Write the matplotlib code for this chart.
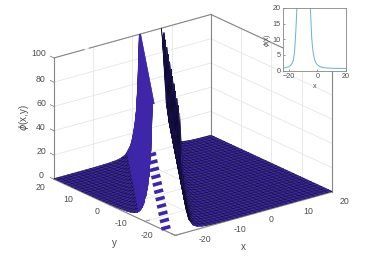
import numpy as np
import matplotlib
matplotlib.use("Agg")
import matplotlib.pyplot as plt

plt.rcParams['font.family'] = ['Liberation Sans', 'DejaVu Sans']

W, H = 385, 259

# grid of the surface
n_grid = 36
x = np.linspace(-20, 20, n_grid)
y = np.linspace(-20, 20, n_grid)

# height, by distance from the ridge (in thirds of a grid step)
# last value holds for everything further away
ridge_height = [np.nan, np.nan, np.nan, np.nan, np.nan, np.nan, np.nan,
                100, 100, 60, 38, 27, 20, 14, 10, 7.5, 5.6, 4.2, 3.3, 2.7,
                2.2, 1.9, 1.6, 1.4, 1.2, 1.1, 1.0, 0.9, 0.85, 0.8, 0.75,
                0.7, 0.68, 0.65, 0.62, 0.6, 0.58, 0.56, 0.54, 0.52, 0.5]

# flat bits left in the middle of the ridge: row, column
dash_rows = [4, 7, 10, 13, 16, 19, 22, 25, 28, 31, 34]
dash_cols = [1, 3, 5, 7, 9, 11, 13, 15, 17, 19, 21]

# inset slice
slice_x = [-24, -22, -20, -19, -18, -17, -16.5, -16, -15.5, -15, -14.6, -14.2,
           -5, -4.6, -4, -3.5, -3, -2, -1, 0, 2, 4, 7, 10, 14, 20]
slice_y = [0.8, 0.95, 1.2, 1.5, 2, 3, 4, 5.5, 9, 13, 17, 21,
           21, 17, 11, 8, 6, 3.5, 2.4, 1.8, 1.2, 0.95, 0.8, 0.72, 0.68, 0.65]

xticks = [-20, -10, 0, 10, 20]
yticks = [-20, -10, 0, 10, 20]
zticks = [0, 20, 40, 60, 80, 100]

blue = '#3e26a8'
frame = '#858585'
grid_col = '#e6e6e6'
txt = '#4d4d4d'

Z = np.zeros((n_grid, n_grid))
K = np.zeros((n_grid, n_grid), dtype=int)
for i in range(n_grid):
    for j in range(n_grid):
        k = 3 * j - 2 * i + 5
        K[i, j] = k
        Z[i, j] = ridge_height[min(abs(k), len(ridge_height) - 1)]

X, Y = np.meshgrid(x, y)

fig = plt.figure(figsize=(W / 100, H / 100), dpi=100)
# 3d axes stay square, so a big square hanging over the figure edges
side = 300
cx, cy = 189, 129
ax = fig.add_axes([(cx - side / 2) / W, 1 - (cy + side / 2) / H, side / W, side / H],
                  projection='3d', computed_zorder=False)
ax.set_proj_type('ortho')
ax.view_init(elev=21, azim=232.3)
ax.set_xlim(-20, 20)
ax.set_ylim(-20, 20)
ax.set_zlim(0, 100)
ax.set_box_aspect((1, 1, 0.655), zoom=1.0)
ax.set_axis_off()

# walls and floor grid
for t in xticks:
    ax.plot([t, t], [20, 20], [0, 100], color=grid_col, lw=0.6)
    ax.plot([t, t], [-20, 20], [0, 0], color=grid_col, lw=0.6)
for t in yticks:
    ax.plot([20, 20], [t, t], [0, 100], color=grid_col, lw=0.6)
    ax.plot([-20, 20], [t, t], [0, 0], color=grid_col, lw=0.6)
for t in zticks[1:]:
    ax.plot([-20, 20], [20, 20], [t, t], color=grid_col, lw=0.6)
    ax.plot([20, 20], [-20, 20], [t, t], color=grid_col, lw=0.6)

# box, the back top edge has a small break in the original
ax.plot([-20, -12.3], [20, 20], [100, 100], color=frame, lw=0.8)
ax.plot([-11, 20], [20, 20], [100, 100], color=frame, lw=0.8)
ax.plot([20, 20], [20, -20], [100, 100], color=frame, lw=0.8)
ax.plot([-20, -20], [20, 20], [0, 100], color=frame, lw=0.8)
ax.plot([20, 20], [20, 20], [0, 100], color=frame, lw=0.8)
ax.plot([20, 20], [-20, -20], [0, 100], color=frame, lw=0.8)
ax.plot([-20, 20], [-20, -20], [0, 0], color=frame, lw=0.8)
ax.plot([-20, -20], [-20, 20], [0, 0], color=frame, lw=0.8)
for t in zticks:
    ax.plot([-20, -20], [20, 21.2], [t, t], color=frame, lw=0.6)
for t in yticks:
    ax.plot([-20, -18.8], [t, t], [0, 0], color=frame, lw=0.6)
for t in xticks:
    ax.plot([t, t], [-20, -18.8], [0, 0], color=frame, lw=0.6)

Z_main = np.where((K < 0) & (np.abs(K) < 13), np.nan, Z)
ax.plot_surface(X, Y, Z_main, rstride=1, cstride=1, color=blue, edgecolor='#0d0a30',
                linewidth=0.35, shade=False, zorder=5)
for r, c in zip(dash_rows, dash_cols):
    ax.plot([x[c - 1], x[c + 1]], [y[r], y[r]], [0, 0], color=blue, lw=2.6,
            solid_capstyle='butt', zorder=6)

# steep left flank: no black mesh on it and a straight top edge, so it gets
# its own grid sheared along the ridge
step = x[1] - x[0]
flank_k = np.arange(16, 6, -1)
flank_y = np.linspace(-20, 20, 161)
ridge_x = x[dash_cols[0]] + (flank_y - y[dash_rows[0]]) * 2 / 3
X_f = ridge_x[:, None] - flank_k[None, :] * step / 3
Y_f = np.repeat(flank_y[:, None], len(flank_k), axis=1)
Z_f = np.repeat(np.array([ridge_height[k] for k in flank_k])[None, :], len(flank_y), axis=0)
Z_f = np.where(X_f < -20, np.nan, Z_f)
ax.plot_surface(X_f, Y_f, Z_f, rstride=1, cstride=1, color=blue, edgecolor=blue,
                linewidth=0.3, shade=False, zorder=7)


def label(px, py, s, size=6.3, **kw):
    fig.text(px / W, 1 - py / H, s, fontsize=size, color=txt, ha='center', va='center', **kw)


for t, (px, py) in zip(zticks, [(41, 176), (41, 152), (41, 127), (41, 104), (41, 80), (39, 54)]):
    label(px, py, str(t))
for t, (px, py) in zip(yticks, [(147, 236), (121, 224), (97, 212), (68, 199), (40, 187)]):
    label(px, py, str(t))
for t, (px, py) in zip(xticks, [(205, 239), (240, 229), (271, 220), (308, 211), (344, 201)]):
    label(px, py, str(t))
label(24, 118, r'$\phi$(x,y)', size=7, rotation=90)
label(114, 243, 'y', size=7)
label(243, 247, 'x', size=7)

# inset
ins = fig.add_axes([283 / W, 1 - 70.5 / H, 63 / W, 62.5 / H])
left = [v for v in slice_x if v < -10]
ins.plot(left, slice_y[:len(left)], color='#6aaee0', lw=0.7)
ins.plot(slice_x[len(left):], slice_y[len(left):], color='#6aaee0', lw=0.7)
ins.set_xlim(-24, 20)
ins.set_ylim(0, 20)
ins.set_xticks([-20, 0, 20])
ins.set_yticks([0, 5, 10, 15, 20])
ins.tick_params(direction='in', length=1.5, width=0.4, labelsize=5.2, pad=1.5,
                colors=txt, top=False, right=False)
for s in ins.spines.values():
    s.set_color(frame)
    s.set_linewidth(0.6)
ins.set_xlabel('x', fontsize=5.2, color=txt, labelpad=2.5)
label(267.5, 40, r'$\phi$(x)', size=4.8, rotation=90)

fig.savefig('out.png', dpi=100)
